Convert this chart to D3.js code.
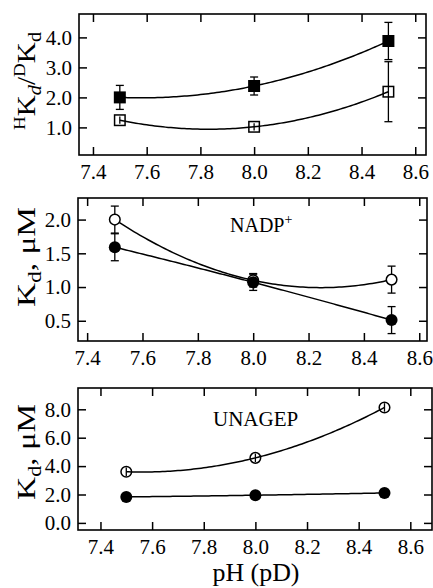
<!DOCTYPE html>
<html><head><meta charset="utf-8">
<script src="https://cdn.jsdelivr.net/npm/d3@7"></script>
<style>
body{margin:0;background:#fff}
svg{display:block}
text{font-family:"Liberation Serif","Times New Roman",serif;fill:#000}
</style>
</head><body>
<svg id="c" width="433" height="588"></svg>
<script>
// ---------- data ----------
const pH = [7.5, 8.0, 8.5];
const xTickValues = [7.4, 7.6, 7.8, 8.0, 8.2, 8.4, 8.6];
const ratioTicks = [1.0, 2.0, 3.0, 4.0];
const nadpTicks = [0.5, 1.0, 1.5, 2.0];
const unagepTicks = [0.0, 2.0, 4.0, 6.0, 8.0];

const ratioFilled = [2.0, 2.38, 3.88];
const ratioFilledErr = [0.4, 0.3, 0.62];
const ratioOpen = [1.24, 1.02, 2.19];
const ratioOpenErr = [0.12, 0.12, 1.0];

const nadpFilled = [1.59, 1.07, 0.51];
const nadpFilledErr = [0.2, 0.12, 0.2];
const nadpOpen = [2.0, 1.1, 1.11];
const nadpOpenErr = [0.2, 0.1, 0.2];

const unagepFilled = [1.83, 1.95, 2.11];
const unagepFilledErr = [0, 0, 0];
const unagepOpen = [3.6, 4.58, 8.13];
const unagepOpenErr = [0.3, 0.3, 0.3];

// ---------- drawing ----------
const svg = d3.select("#c");
const SERIF = '"Liberation Serif","Times New Roman",serif';

function lagrange(xs, ys) {
  return x => {
    let s = 0;
    for (let i = 0; i < xs.length; i++) {
      let t = ys[i];
      for (let j = 0; j < xs.length; j++) if (j !== i) t *= (x - xs[j]) / (xs[i] - xs[j]);
      s += t;
    }
    return s;
  };
}

function panel(cfg) {
  const g = svg.append("g");
  const x = d3.scaleLinear().domain(cfg.xDomain).range([cfg.left, cfg.right]);
  const y = d3.scaleLinear().domain(cfg.yDomain).range([cfg.bottom, cfg.top]);
  const fmt = d3.format(".1f");

  const styleAxis = a => {
    a.attr("font-family", null).attr("font-size", null);
    a.select(".domain").remove();
    a.selectAll(".tick line").attr("stroke", "#000").attr("stroke-width", 1.5);
    a.selectAll("text").style("font-size", "21px").style("fill", "#000")
      .style("font-family", SERIF);
  };

  g.append("g").attr("transform", `translate(0,${cfg.bottom})`)
    .call(d3.axisBottom(x).tickValues(xTickValues).tickFormat(fmt).tickSizeInner(-8).tickSizeOuter(0).tickPadding(9))
    .call(styleAxis);
  g.append("g").attr("transform", `translate(0,${cfg.top})`)
    .call(d3.axisTop(x).tickValues(xTickValues).tickFormat("").tickSizeInner(-8).tickSizeOuter(0))
    .call(styleAxis);
  g.append("g").attr("transform", `translate(${cfg.left},0)`)
    .call(d3.axisLeft(y).tickValues(cfg.yTicks).tickFormat(fmt).tickSizeInner(-8).tickSizeOuter(0).tickPadding(7))
    .call(styleAxis);
  g.append("g").attr("transform", `translate(${cfg.right},0)`)
    .call(d3.axisRight(y).tickValues(cfg.yTicks).tickFormat("").tickSizeInner(-8).tickSizeOuter(0))
    .call(styleAxis);

  g.append("rect").attr("x", cfg.left).attr("y", cfg.top)
    .attr("width", cfg.right - cfg.left).attr("height", cfg.bottom - cfg.top)
    .attr("fill", "none").attr("stroke", "#000").attr("stroke-width", 1.6);

  // error bars
  cfg.series.forEach(s => {
    s.y.forEach((v, i) => {
      const e = s.err[i];
      if (!e) return;
      const cx = x(pH[i]), y0 = y(v - e), y1 = y(v + e);
      g.append("line").attr("x1", cx).attr("x2", cx).attr("y1", y0).attr("y2", y1)
        .attr("stroke", "#000").attr("stroke-width", 1.3);
      if (Math.abs(y0 - y1) / 2 > 6.5) {
        [y0, y1].forEach(yy => g.append("line").attr("x1", cx - 4).attr("x2", cx + 4)
          .attr("y1", yy).attr("y2", yy).attr("stroke", "#000").attr("stroke-width", 1.3));
      }
    });
  });

  // fitted curves
  cfg.series.forEach(s => {
    const f = lagrange(pH, s.y);
    const pts = d3.range(0, 101).map(k => {
      const xv = pH[0] + (pH[pH.length - 1] - pH[0]) * k / 100;
      return [xv, f(xv)];
    });
    g.append("path").attr("d", d3.line().x(d => x(d[0])).y(d => y(d[1]))(pts))
      .attr("fill", "none").attr("stroke", "#000").attr("stroke-width", 1.5);
  });

  // markers
  cfg.series.forEach(s => {
    s.y.forEach((v, i) => {
      const cx = x(pH[i]), cy = y(v);
      let m;
      if (s.shape === "square") {
        const w = s.filled ? 12 : 10.5;
        m = g.append("rect").attr("x", cx - w / 2).attr("y", cy - w / 2).attr("width", w).attr("height", w);
      } else {
        m = g.append("circle").attr("cx", cx).attr("cy", cy).attr("r", s.filled ? 6 : 5.3);
      }
      if (s.filled) m.attr("fill", "#000");
      else m.attr("fill", s.openFill).attr("stroke", "#000").attr("stroke-width", 1.5);
    });
  });
  return {g, x, y};
}

panel({
  left: 79, right: 426, top: 14, bottom: 155,
  xDomain: [7.348, 8.64], yDomain: [0.08, 4.78], yTicks: ratioTicks,
  series: [
    {y: ratioFilled, err: ratioFilledErr, shape: "square", filled: true},
    {y: ratioOpen, err: ratioOpenErr, shape: "square", filled: false, openFill: "none"}
  ]
});
panel({
  left: 78, right: 427, top: 198, bottom: 341,
  xDomain: [7.367, 8.628], yDomain: [0.2, 2.32], yTicks: nadpTicks,
  series: [
    {y: nadpOpen, err: nadpOpenErr, shape: "circle", filled: false, openFill: "#fff"},
    {y: nadpFilled, err: nadpFilledErr, shape: "circle", filled: true}
  ]
});
panel({
  left: 78, right: 432, top: 388, bottom: 530,
  xDomain: [7.313, 8.684], yDomain: [-0.5, 9.5], yTicks: unagepTicks,
  series: [
    {y: unagepOpen, err: unagepOpenErr, shape: "circle", filled: false, openFill: "none"},
    {y: unagepFilled, err: unagepFilledErr, shape: "circle", filled: true}
  ]
});

// ---------- titles ----------
function yTitle(cx, cy, len, parts) {
  const t = svg.append("text").attr("transform", `translate(${cx},${cy}) rotate(-90)`)
    .attr("text-anchor", "middle").attr("font-size", 26)
    .attr("textLength", len).attr("lengthAdjust", "spacingAndGlyphs");
  parts.forEach(p => {
    const ts = t.append("tspan").text(p.t).attr("dy", p.dy || 0);
    if (p.fs) ts.attr("font-size", p.fs);
    if (p.it) ts.attr("font-style", "italic");
  });
}
yTitle(35, 81, 98, [
  {t: "H", fs: 17, dy: -10}, {t: "K", dy: 10}, {t: "d", fs: 18, dy: 6, it: true},
  {t: "/", dy: -6}, {t: "D", fs: 17, dy: -10}, {t: "K", dy: 10}, {t: "d", fs: 18, dy: 6}
]);
yTitle(35, 257, 100, [{t: "K"}, {t: "d", fs: 18, dy: 6}, {t: ", μM", dy: -6}]);
yTitle(35, 452, 96, [{t: "K"}, {t: "d", fs: 18, dy: 6}, {t: ", μM", dy: -6}]);

const nadp = svg.append("text").attr("x", 230).attr("y", 232).attr("font-size", 20);
nadp.append("tspan").text("NADP");
nadp.append("tspan").text("+").attr("font-size", 14).attr("dy", -8);

svg.append("text").attr("x", 213).attr("y", 426).attr("font-size", 21).text("UNAGEP");

svg.append("text").attr("x", 256).attr("y", 581).attr("text-anchor", "middle")
  .attr("font-size", 25).attr("textLength", 87).attr("lengthAdjust", "spacingAndGlyphs").text("pH (pD)");
</script>
</body></html>
